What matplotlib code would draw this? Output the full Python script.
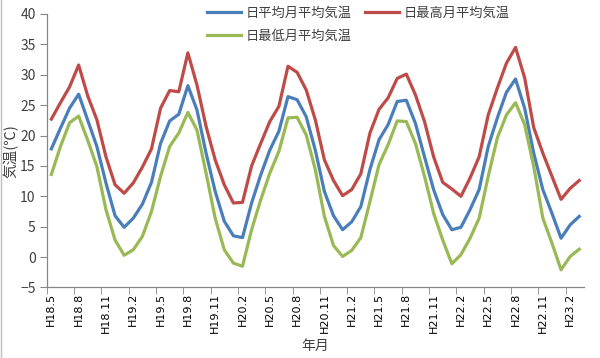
import matplotlib.pyplot as plt
from matplotlib.lines import Line2D

plt.rcParams['font.family'] = ['Noto Sans CJK JP', 'DejaVu Sans']

# 年月 (H18.5 - H23.3)
months = ['H18.5', 'H18.6', 'H18.7', 'H18.8', 'H18.9', 'H18.10', 'H18.11', 'H18.12',
          'H19.1', 'H19.2', 'H19.3', 'H19.4', 'H19.5', 'H19.6', 'H19.7', 'H19.8',
          'H19.9', 'H19.10', 'H19.11', 'H19.12', 'H20.1', 'H20.2', 'H20.3', 'H20.4',
          'H20.5', 'H20.6', 'H20.7', 'H20.8', 'H20.9', 'H20.10', 'H20.11', 'H20.12',
          'H21.1', 'H21.2', 'H21.3', 'H21.4', 'H21.5', 'H21.6', 'H21.7', 'H21.8',
          'H21.9', 'H21.10', 'H21.11', 'H21.12', 'H22.1', 'H22.2', 'H22.3', 'H22.4',
          'H22.5', 'H22.6', 'H22.7', 'H22.8', 'H22.9', 'H22.10', 'H22.11', 'H22.12',
          'H23.1', 'H23.2', 'H23.3']

t_mean = [17.8, 21.2, 24.5, 26.8, 22.5, 18.2, 12.2, 6.8, 4.9, 6.4, 8.7, 12.3,
          18.7, 22.4, 23.5, 28.2, 24.2, 17.1, 10.8, 5.9, 3.5, 3.2, 8.9, 13.5,
          17.6, 20.7, 26.4, 25.9, 23.1, 17.6, 10.8, 6.8, 4.5, 5.8, 8.3, 14.4,
          19.3, 21.8, 25.6, 25.8, 22.0, 16.5, 11.1, 7.0, 4.5, 4.9, 7.8, 11.1,
          18.2, 22.9, 27.1, 29.3, 24.5, 17.1, 11.1, 7.2, 3.1, 5.3, 6.7]

t_max = [22.7, 25.4, 28.0, 31.6, 26.5, 22.6, 16.5, 11.9, 10.5, 12.2, 14.8, 17.8,
         24.5, 27.4, 27.2, 33.6, 28.3, 21.5, 16.0, 11.9, 8.9, 9.0, 15.0, 18.7,
         22.3, 24.8, 31.4, 30.4, 27.5, 22.6, 16.0, 12.6, 10.1, 11.1, 13.7, 20.4,
         24.3, 26.2, 29.4, 30.1, 26.7, 22.3, 16.5, 12.3, 11.2, 10.0, 13.0, 16.5,
         23.4, 27.8, 31.9, 34.5, 29.5, 21.3, 17.1, 13.3, 9.5, 11.3, 12.6]

t_min = [13.6, 18.2, 22.1, 23.2, 19.2, 14.9, 7.8, 2.8, 0.3, 1.2, 3.4, 7.5,
         13.3, 18.2, 20.4, 23.8, 20.9, 13.8, 6.4, 1.2, -1.0, -1.5, 4.5, 9.4,
         13.8, 17.4, 22.9, 23.0, 20.1, 14.4, 6.7, 1.9, 0.1, 1.1, 3.2, 9.1,
         15.2, 18.5, 22.4, 22.3, 18.7, 13.3, 7.2, 2.8, -1.1, 0.4, 3.1, 6.4,
         13.3, 19.6, 23.4, 25.4, 21.8, 14.9, 6.4, 2.3, -2.1, 0.1, 1.3]

c_mean = '#4A7EBB'
c_max = '#BE4B48'
c_min = '#98B954'
axis_gray = '#868686'
text_gray = '#404040'

x = list(range(len(months)))

fig = plt.figure(figsize=(6, 3.58), dpi=100)
ax = fig.add_axes([0.078, 0.197, 0.895, 0.764])

ax.plot(x, t_mean, color=c_mean, lw=2.3, label='日平均月平均気温')
ax.plot(x, t_max, color=c_max, lw=2.3, label='日最高月平均気温')
ax.plot(x, t_min, color=c_min, lw=2.3, label='日最低月平均気温')

ax.set_xlim(-0.5, len(months) - 0.5)
ax.set_ylim(-5, 40)
ax.set_yticks(range(-5, 41, 5))

# labels every 3 months, tick marks between categories
ax.set_xticks(x[::3])
ax.set_xticklabels(months[::3], rotation=90, fontsize=8, color='black',
                   family=['DejaVu Sans'])
ax.set_xticks([i - 0.5 for i in x[::3]], minor=True)
ax.tick_params(axis='x', which='major', length=0, pad=4)
ax.tick_params(axis='x', which='minor', length=5, color=axis_gray, direction='out')
ax.tick_params(axis='y', length=5, color=axis_gray, labelsize=10,
               labelcolor=text_gray, pad=3)

for side in ['top', 'right']:
    ax.spines[side].set_visible(False)
for side in ['left', 'bottom']:
    ax.spines[side].set_color(axis_gray)
    ax.spines[side].set_linewidth(0.9)

ax.set_ylabel('気温(℃)', fontsize=10.5, color=text_gray, labelpad=1)
ax.set_xlabel('年月', fontsize=10, color=text_gray, labelpad=4)

h = ax.get_legend_handles_labels()[0]
leg = fig.legend([h[0], h[2], h[1]],
                 ['日平均月平均気温', '日最低月平均気温', '日最高月平均気温'],
                 ncol=2, loc='upper left', bbox_to_anchor=(0.325, 1.015),
                 frameon=False, fontsize=9.5, handlelength=2.6,
                 handletextpad=0.35, columnspacing=1.0, labelspacing=0.75)
for t in leg.get_texts():
    t.set_color(text_gray)

# chart border on the left edge
fig.add_artist(Line2D([0.002, 0.002], [0, 1], color='#BFBFBF', lw=1,
                      transform=fig.transFigure))

fig.savefig('out.png', dpi=100)
